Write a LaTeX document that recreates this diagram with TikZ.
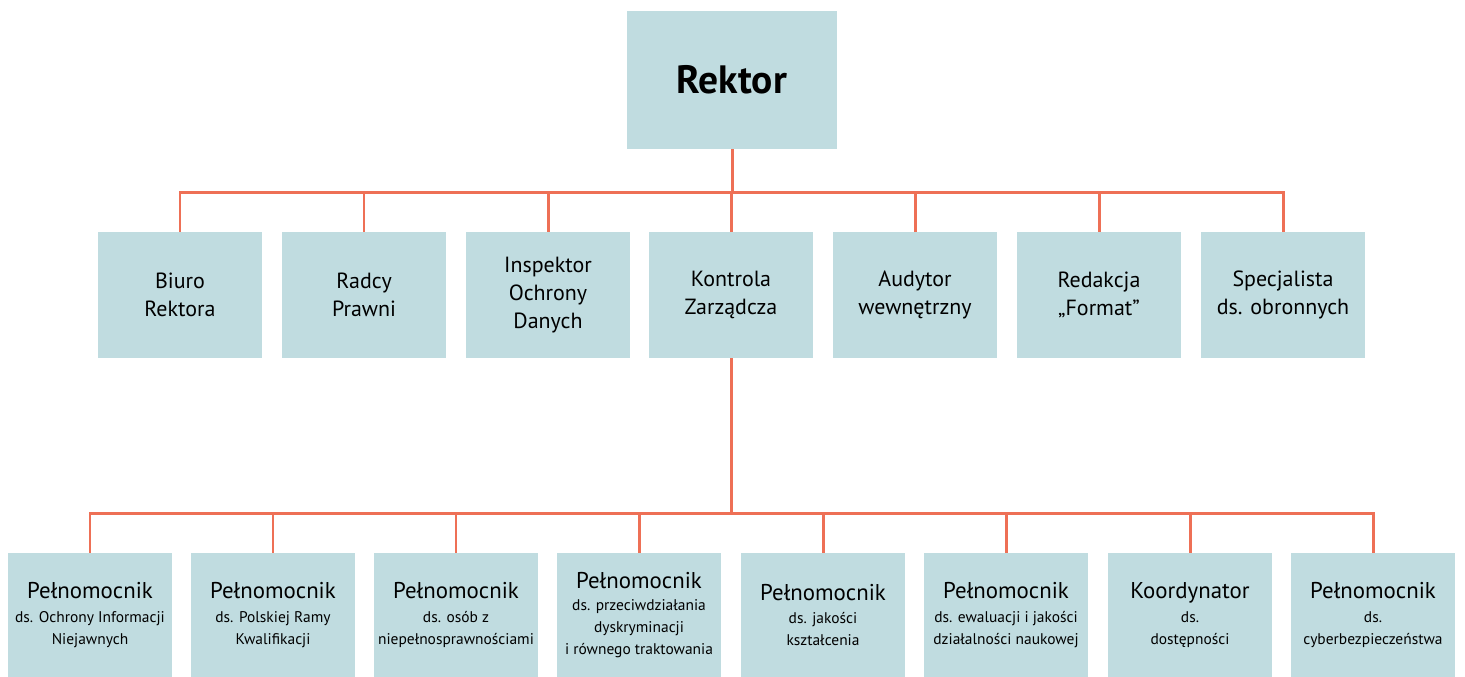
\documentclass[tikz,border=0pt]{standalone}
\usepackage{fontspec}
\setmainfont{PT Sans}
\definecolor{boxblue}{RGB}{192,220,224}
\definecolor{linecoral}{RGB}{238,112,86}
\newcommand{\headsize}{\fontsize{13}{15}\selectfont}

\begin{document}
\begin{tikzpicture}[
        box/.style={fill=boxblue,minimum width=3.28cm,minimum height=2.52cm,align=center,inner sep=1pt,font=\fontsize{12.5}{16}\selectfont},
        lowbox/.style={box,minimum height=2.48cm,font=\fontsize{8.8}{12.5}\selectfont},
        conn/.style={draw=linecoral,line width=1.7pt}]
        \useasboundingbox (0,0) rectangle (29.3,13.54);

        % top
        \node[box,minimum width=4.2cm,minimum height=2.76cm,font=\fontsize{22.5}{25}\selectfont\bfseries](rektor)at(14.64,11.94){Rektor};

        % second row
        \node[box](biuro)at(3.6,7.64){Biuro\\Rektora};
        \node[box](radcy)at(7.28,7.64){Radcy\\Prawni};
        \node[box](iod)at(10.96,7.64){Inspektor\\Ochrony\\Danych};
        \node[box](kontrola)at(14.62,7.64){Kontrola\\Zarządcza};
        \node[box](audytor)at(18.3,7.64){Audytor\\wewnętrzny};
        \node[box](redakcja)at(21.98,7.64){Redakcja\\„Format”};
        \node[box](obrona)at(25.66,7.64){Specjalista\\ds. obronnych};

        \foreach \n in {biuro,radcy,iod,kontrola,audytor,redakcja,obrona}
            \draw[conn](rektor.south)--++(0,-0.86)-|(\n.north);

        % third row
        \node[lowbox](pniejawne)at(1.8,1.24){{\headsize Pełnomocnik}\\[1pt]ds. Ochrony Informacji\\Niejawnych};
        \node[lowbox](pramy)at(5.46,1.24){{\headsize Pełnomocnik}\\[1pt]ds. Polskiej Ramy\\Kwalifikacji};
        \node[lowbox](posoby)at(9.12,1.24){{\headsize Pełnomocnik}\\[1pt]ds. osób z\\niepełnosprawnościami};
        \node[lowbox](pdyskr)at(12.78,1.24){{\headsize Pełnomocnik}\\ds. przeciwdziałania\\dyskryminacji\\i równego traktowania};
        \node[lowbox](pksztal)at(16.46,1.24){{\headsize Pełnomocnik}\\[1pt]ds. jakości\\kształcenia};
        \node[lowbox](pnauka)at(20.12,1.24){{\headsize Pełnomocnik}\\[1pt]ds. ewaluacji i jakości\\działalności naukowej};
        \node[lowbox](kdostep)at(23.8,1.24){{\headsize Koordynator}\\[1pt]ds.\\dostępności};
        \node[lowbox](pcyber)at(27.46,1.24){{\headsize Pełnomocnik}\\[1pt]ds.\\cyberbezpieczeństwa};

        \foreach \n in {pniejawne,pramy,posoby,pdyskr,pksztal,pnauka,kdostep,pcyber}
            \draw[conn](kontrola.south)--++(0,-3.1)-|(\n.north);
    \end{tikzpicture}
\end{document}
